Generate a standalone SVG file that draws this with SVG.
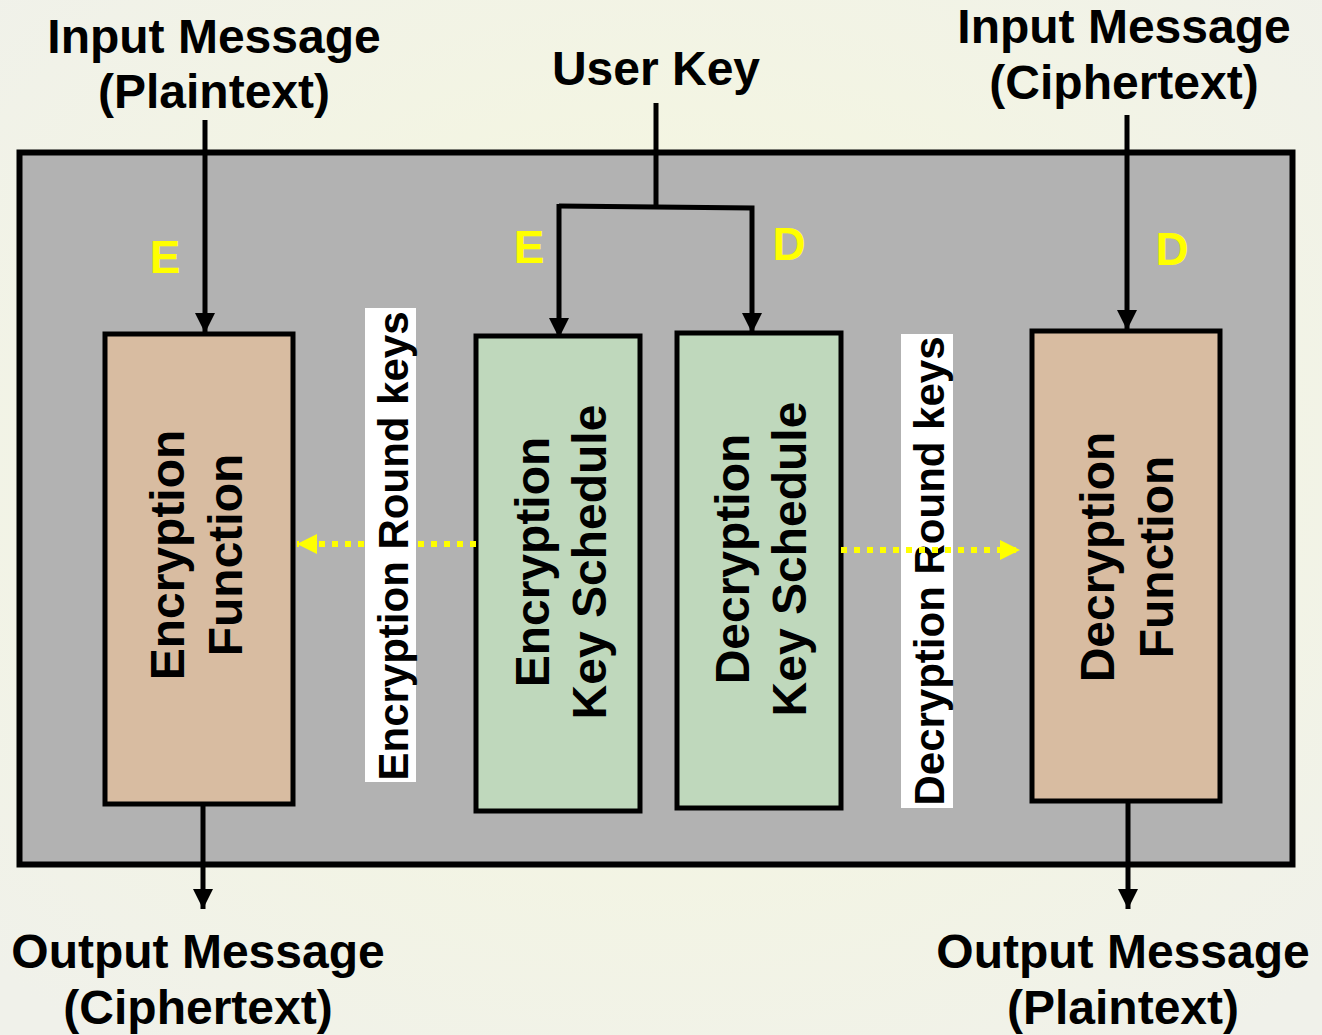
<svg xmlns="http://www.w3.org/2000/svg" width="1322" height="1035" viewBox="0 0 1322 1035">
<defs>
<radialGradient id="bg" cx="0.5" cy="0.45" r="0.7">
<stop offset="0" stop-color="#f6f8dc"/>
<stop offset="1" stop-color="#f0f1ea"/>
</radialGradient>
<marker id="ah" markerUnits="userSpaceOnUse" markerWidth="20" markerHeight="20" viewBox="0 0 20 20" refX="20" refY="10" orient="auto">
<path d="M0,0 L20,10 L0,20 Z" fill="#000"/>
</marker>
<marker id="yh" markerUnits="userSpaceOnUse" markerWidth="22" markerHeight="22" viewBox="0 0 22 22" refX="20" refY="11" orient="auto">
<path d="M0,1 L20,11 L0,21 Z" fill="#ffff00"/>
</marker>
<style>
.lbl{font-family:"Liberation Sans",Arial,sans-serif;font-weight:bold;font-size:48px;fill:#000;text-anchor:middle}
.box{font-family:"Liberation Sans",Arial,sans-serif;font-weight:bold;font-size:48px;fill:#000;text-anchor:middle}
.rk{font-family:"Liberation Sans",Arial,sans-serif;font-weight:bold;font-size:42px;fill:#000;text-anchor:middle}
.yl{font-family:"Liberation Sans",Arial,sans-serif;font-weight:bold;font-size:46px;fill:#ffff00;text-anchor:middle}
.fn{fill:#d8bca1;stroke:#000;stroke-width:5}
.ks{fill:#bfd8bc;stroke:#000;stroke-width:5}
.ln{fill:none;stroke:#000;stroke-width:5}
.dot{fill:none;stroke:#ffff00;stroke-width:6;stroke-dasharray:6 7}
</style>
</defs>
<rect width="1322" height="1035" fill="url(#bg)"/>
<g id="container">
<rect x="19.5" y="152.5" width="1273" height="712" fill="#b2b2b2" stroke="#000" stroke-width="6"/>
</g>
<g id="labels">
<text class="lbl" x="214" y="53">Input Message</text>
<text class="lbl" x="214" y="108">(Plaintext)</text>
<text class="lbl" x="1124" y="43">Input Message</text>
<text class="lbl" x="1124" y="99">(Ciphertext)</text>
<text class="lbl" x="656" y="85">User Key</text>
<text class="lbl" x="198" y="968">Output Message</text>
<text class="lbl" x="198" y="1024">(Ciphertext)</text>
<text class="lbl" x="1123" y="968">Output Message</text>
<text class="lbl" x="1123" y="1024">(Plaintext)</text>
<text class="yl" x="165" y="273">E</text>
<text class="yl" x="529" y="263">E</text>
<text class="yl" x="789" y="260">D</text>
<text class="yl" x="1172" y="265">D</text>
</g>
<g id="enc-function">
<rect class="fn" x="105" y="334" width="188" height="470"/>
<text class="box" transform="translate(184,555) rotate(-90)">Encryption</text>
<text class="box" transform="translate(242,555) rotate(-90)">Function</text>
</g>
<g id="enc-key-schedule">
<rect class="ks" x="476" y="336" width="164" height="475"/>
<text class="box" transform="translate(549,562) rotate(-90)">Encryption</text>
<text class="box" transform="translate(606,562) rotate(-90)">Key Schedule</text>
</g>
<g id="dec-key-schedule">
<rect class="ks" x="677" y="333" width="164" height="475"/>
<text class="box" transform="translate(749,559) rotate(-90)">Decryption</text>
<text class="box" transform="translate(806,559) rotate(-90)">Key Schedule</text>
</g>
<g id="dec-function">
<rect class="fn" x="1032" y="331" width="188" height="470"/>
<text class="box" transform="translate(1114,557) rotate(-90)">Decryption</text>
<text class="box" transform="translate(1173,557) rotate(-90)">Function</text>
</g>
<g id="enc-round-keys">
<rect x="365" y="308" width="51" height="474" fill="#fff"/>
<text class="rk" transform="translate(408,546) rotate(-90)">Encryption Round keys</text>
</g>
<g id="dec-round-keys">
<rect x="901" y="334" width="52" height="474" fill="#fff"/>
<text class="rk" transform="translate(944,571) rotate(-90)">Decryption Round keys</text>
</g>
<g id="connectors">
<line class="ln" x1="205" y1="120" x2="205" y2="333" marker-end="url(#ah)"/>
<line class="ln" x1="203" y1="806" x2="203" y2="909" marker-end="url(#ah)"/>
<line class="ln" x1="1127" y1="115" x2="1127" y2="330" marker-end="url(#ah)"/>
<line class="ln" x1="1128" y1="803" x2="1128" y2="909" marker-end="url(#ah)"/>
<line class="ln" x1="656" y1="103" x2="656" y2="207"/>
<polyline class="ln" points="559,206 752,208 752,333" marker-end="url(#ah)"/>
<polyline class="ln" points="559,204 559,338" marker-end="url(#ah)"/>
<line class="dot" x1="476" y1="544" x2="417" y2="544"/>
<line class="dot" x1="364" y1="544" x2="297" y2="544" marker-end="url(#yh)"/>
<line class="dot" x1="841" y1="550" x2="1020" y2="550" marker-end="url(#yh)"/>
</g>
</svg>
